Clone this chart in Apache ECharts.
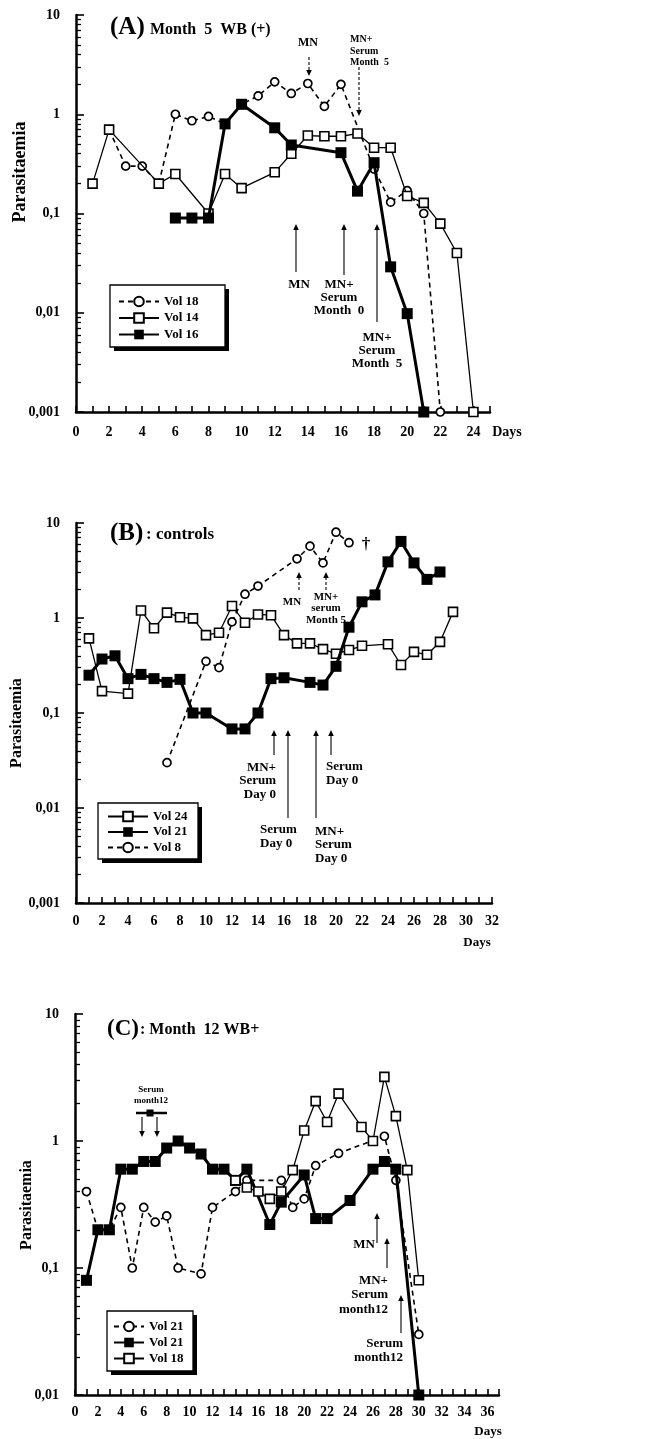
<!DOCTYPE html>
<html><head><meta charset="utf-8">
<script src="https://cdn.jsdelivr.net/npm/echarts@6/dist/echarts.min.js"></script>
<style>html,body{margin:0;padding:0;background:#fff}#c{width:655px;height:1439px}</style>
</head><body><div id="c"></div>
<script>
// ---------- DATA ----------
// Panel A : Month 5 WB (+)
const daysA_vol18 = [2,3,4,5,6,7,8,9,10,11,12,13,14,15,16,18,19,20,21,22];
const valsA_vol18 = [0.7,0.3,0.3,0.2,1.0,0.86,0.95,0.8,1.26,1.53,2.12,1.62,2.04,1.2,2.0,0.28,0.13,0.17,0.10,0.001];
const daysA_vol14 = [1,2,5,6,8,9,10,12,13,14,15,16,17,18,19,20,21,22,23,24];
const valsA_vol14 = [0.2,0.7,0.2,0.25,0.1,0.25,0.18,0.26,0.4,0.61,0.6,0.6,0.64,0.46,0.46,0.15,0.128,0.079,0.04,0.001];
const daysA_vol16 = [6,7,8,9,10,12,13,16,17,18,19,20,21];
const valsA_vol16 = [0.09,0.09,0.09,0.8,1.26,0.73,0.49,0.41,0.168,0.325,0.029,0.0098,0.001];

// Panel B : controls
const daysB_vol24 = [1,2,4,5,6,7,8,9,10,11,12,13,14,15,16,17,18,19,20,21,22,24,25,26,27,28,29];
const valsB_vol24 = [0.61,0.17,0.16,1.2,0.78,1.14,1.02,0.99,0.66,0.70,1.34,0.89,1.09,1.07,0.66,0.54,0.54,0.47,0.42,0.46,0.51,0.53,0.32,0.44,0.41,0.56,1.16];
const daysB_vol21 = [1,2,3,4,5,6,7,8,9,10,12,13,14,15,16,18,19,20,21,22,23,24,25,26,27,28];
const valsB_vol21 = [0.25,0.37,0.40,0.23,0.255,0.23,0.21,0.226,0.1,0.1,0.068,0.068,0.1,0.23,0.235,0.21,0.197,0.31,0.8,1.48,1.75,3.9,6.4,3.8,2.55,3.05];
const daysB_vol8 = [7,10,11,12,13,14,17,18,19,20,21];
const valsB_vol8 = [0.03,0.35,0.30,0.91,1.78,2.17,4.2,5.7,3.8,8.0,6.2];

// Panel C : Month 12 WB+
const daysC_vol21d = [1,2,3,4,5,6,7,8,9,11,12,14,15,18,19,20,21,23,27,28,30];
const valsC_vol21d = [0.40,0.2,0.2,0.30,0.1,0.30,0.23,0.257,0.1,0.09,0.30,0.40,0.49,0.49,0.30,0.35,0.64,0.80,1.09,0.49,0.03];
const daysC_vol21f = [1,2,3,4,5,6,7,8,9,10,11,12,13,14,15,17,18,20,21,22,24,26,27,28,30];
const valsC_vol21f = [0.08,0.2,0.2,0.6,0.6,0.69,0.69,0.88,1.0,0.88,0.79,0.6,0.6,0.49,0.6,0.22,0.33,0.54,0.245,0.245,0.34,0.6,0.69,0.6,0.01];
const daysC_vol18 = [14,15,16,17,18,19,20,21,22,23,25,26,27,28,29,30];
const valsC_vol18 = [0.49,0.43,0.40,0.35,0.40,0.59,1.21,2.06,1.41,2.36,1.29,1.0,3.2,1.57,0.59,0.08];

const yDecadesA = [0.001,0.01,0.1,1,10];
const yDecadesC = [0.01,0.1,1,10];

// ---------- HELPERS ----------
const FF = '"Liberation Serif","Times New Roman",serif';
const pairs = (d, v) => d.map((x, i) => [x, v[i]]);
const minorOf = decs => { const r = []; for (let i = 0; i < decs.length - 1; i++) for (let k = 2; k <= 9; k++) r.push(+(decs[i] * k).toPrecision(3)); return r; };
const fmtY = v => { const e = Math.round(Math.log10(v)); return e >= 0 ? String(Math.pow(10, e)) : '0,' + '0'.repeat(-e - 1) + '1'; };

const STY = {
  circ: { symbol: 'circle', symbolSize: 8, itemStyle: { color: '#fff', borderColor: '#000', borderWidth: 1.7 }, lineStyle: { color: '#000', width: 1.6, type: [5, 4] } },
  open: { symbol: 'rect', symbolSize: 9, itemStyle: { color: '#fff', borderColor: '#000', borderWidth: 1.6 }, lineStyle: { color: '#000', width: 1.3 } },
  fill: { symbol: 'rect', symbolSize: 11, itemStyle: { color: '#000' }, lineStyle: { color: '#000', width: 3 } }
};
function ser(name, idx, d, v, st, z) {
  return Object.assign({ type: 'line', name, xAxisIndex: idx, yAxisIndex: idx, data: pairs(d, v), z, silent: true, animation: false, showAllSymbol: true, emphasis: { disabled: true } }, JSON.parse(JSON.stringify(STY[st])));
}

const grids = [
  { left: 76, top: 15, width: 414, height: 397 },
  { left: 76, top: 523, width: 416, height: 380 },
  { left: 75, top: 1014, width: 424, height: 381 }
];
const xMax = [25, 32, 37];
const xMargin = [13, 11, 10];
const yDec = [yDecadesA, yDecadesA, yDecadesC];

const xAxes = xMax.map((m, i) => ({
  type: 'value', gridIndex: i, min: 0, max: m, interval: 1,
  axisLine: { onZero: false, lineStyle: { color: '#000', width: 2.5 } },
  axisTick: { inside: true, length: 6, lineStyle: { color: '#000', width: 1.6 } },
  axisLabel: { formatter: v => (v % 2 === 0 ? String(v) : ''), margin: xMargin[i], color: '#000', fontFamily: FF, fontWeight: 'bold', fontSize: 14 },
  splitLine: { show: false }
}));
const yAxes = [];
yDec.forEach((dec, i) => {
  yAxes.push({
    type: 'log', logBase: 10, gridIndex: i, min: dec[0], max: dec[dec.length - 1], position: 'left',
    axisLine: { show: true, lineStyle: { color: '#000', width: 2.5 } },
    axisTick: { inside: true, length: 8, customValues: dec, lineStyle: { color: '#000', width: 1.6 } },
    axisLabel: { customValues: dec, formatter: fmtY, margin: 16, color: '#000', fontFamily: FF, fontWeight: 'bold', fontSize: 14 },
    splitLine: { show: false }, minorTick: { show: false }
  });
});
yDec.forEach((dec, i) => {
  yAxes.push({
    type: 'log', logBase: 10, gridIndex: i, min: dec[0], max: dec[dec.length - 1], position: 'left', offset: 0,
    axisLine: { show: false },
    axisTick: { inside: true, length: 5, customValues: minorOf(dec), lineStyle: { color: '#000', width: 1.3 } },
    axisLabel: { show: false }, splitLine: { show: false }
  });
});

const series = [
  ser('A|Vol 18', 0, daysA_vol18, valsA_vol18, 'circ', 2),
  ser('A|Vol 14', 0, daysA_vol14, valsA_vol14, 'open', 3),
  ser('A|Vol 16', 0, daysA_vol16, valsA_vol16, 'fill', 4),
  ser('B|Vol 8', 1, daysB_vol8, valsB_vol8, 'circ', 2),
  ser('B|Vol 24', 1, daysB_vol24, valsB_vol24, 'open', 3),
  ser('B|Vol 21', 1, daysB_vol21, valsB_vol21, 'fill', 4),
  ser('C|Vol 21', 2, daysC_vol21d, valsC_vol21d, 'circ', 2),
  ser('C|Vol 21 f', 2, daysC_vol21f, valsC_vol21f, 'fill', 3),
  ser('C|Vol 18', 2, daysC_vol18, valsC_vol18, 'open', 4)
];

const legBase = {
  orient: 'vertical', selectedMode: false, backgroundColor: 'transparent', borderWidth: 0, z: 10,
  itemHeight: 12,
  formatter: n => n.split('|')[1].replace(' f', ''),
  textStyle: { color: '#000', fontFamily: FF, fontWeight: 'bold', fontSize: 13, lineHeight: 12 }
};
const legends = [
  Object.assign({}, legBase, { data: ['A|Vol 18', 'A|Vol 14', 'A|Vol 16'], left: 110, top: 285, padding: [10, 30, 10, 8], itemWidth: 40, itemGap: 3.5 }),
  Object.assign({}, legBase, { data: ['B|Vol 24', 'B|Vol 21', 'B|Vol 8'], left: 98, top: 803, padding: [7, 15, 7, 9], itemWidth: 40, itemGap: 2.5 }),
  Object.assign({}, legBase, { data: ['C|Vol 21', 'C|Vol 21 f', 'C|Vol 18'], left: 107, top: 1311, padding: [9, 20, 9, 6], itemWidth: 30, itemGap: 3 })
];
// legend frames (box + hard drop shadow)
const legendBoxes = [[110, 285, 115, 62], [98, 803, 100, 56], [107, 1311, 86, 60]];

// ---------- ANNOTATIONS ----------
function txt(x, y, text, size, align, lh) {
  return { type: 'text', x, y, z: 50, style: { text, font: 'bold ' + size + 'px ' + FF, fill: '#000', align: align || 'center', verticalAlign: 'middle', lineHeight: lh || size } };
}
function arrow(x, yFrom, yTo, dotted) {
  const dir = yTo < yFrom ? -1 : 1, hl = 6, hw = 2.8;
  return [
    { type: 'line', z: 50, shape: { x1: x, y1: yFrom, x2: x, y2: yTo - dir * hl }, style: { stroke: '#000', lineWidth: 1.1, lineDash: dotted ? [3, 2] : null } },
    { type: 'polygon', z: 50, shape: { points: [[x, yTo], [x - hw, yTo - dir * hl], [x + hw, yTo - dir * hl]] }, style: { fill: '#000' } }
  ];
}
const g = [];
legendBoxes.forEach(([x, y, w, h]) => {
  g.push({ type: 'rect', z: 5, shape: { x: x + 4, y: y + 4, width: w, height: h }, style: { fill: '#000' } });
  g.push({ type: 'rect', z: 6, shape: { x, y, width: w, height: h }, style: { fill: '#fff', stroke: '#000', lineWidth: 1.3 } });
});
// titles
g.push(txt(110, 28, '(A)', 25, 'left'), txt(150, 30, 'Month  5  WB (+)', 16, 'left'));
g.push(txt(110, 534, '(B)', 25, 'left'), txt(146, 535, ': controls', 17, 'left'));
g.push(txt(107, 1029, '(C)', 23, 'left'), txt(140, 1030, ': Month  12 WB+', 16, 'left'));
// y names
[[20, 172, 18], [17, 723, 16], [27, 1205, 16]].forEach(([x, y, s]) => g.push({ type: 'text', x, y, rotation: Math.PI / 2, z: 50, style: { text: 'Parasitaemia', font: 'bold ' + s + 'px ' + FF, fill: '#000', align: 'center', verticalAlign: 'middle' } }));
// Days
g.push(txt(507, 432, 'Days', 14, 'center'), txt(477, 943, 'Days', 13, 'center'), txt(488, 1432, 'Days', 13, 'center'));
// A annotations
g.push(txt(308, 43, 'MN', 12));
g.push(...arrow(309, 57, 76, true));
g.push(txt(350, 51, 'MN+\nSerum\nMonth  5', 10, 'left', 11.5));
g.push(...arrow(359, 67, 116, true));
g.push(...arrow(296, 272, 224), txt(299, 285, 'MN', 13));
g.push(...arrow(344, 275, 224), txt(339, 298, 'MN+\nSerum\nMonth  0', 13, 'center', 13));
g.push(...arrow(377, 322, 224), txt(377, 351, 'MN+\nSerum\nMonth  5', 13, 'center', 13));
// B annotations
g.push(...arrow(299, 590, 572, true), txt(292, 602, 'MN', 11));
g.push(...arrow(326, 590, 572, true), txt(326, 608.5, 'MN+\nserum\nMonth 5', 11, 'center', 11.5));
g.push(...arrow(274, 755, 730), txt(276, 781, 'MN+\nSerum\nDay 0', 13, 'right', 13.5));
g.push(...arrow(288, 818, 730), txt(260, 836.5, 'Serum\nDay 0', 13, 'left', 13.5));
g.push(...arrow(316, 818, 730), txt(315, 845, 'MN+\nSerum\nDay 0', 13, 'left', 13.5));
g.push(...arrow(331, 755, 730), txt(326, 773.5, 'Serum\nDay 0', 13, 'left', 13.5));
g.push(txt(366, 545, '\u2020', 17));
// C annotations
g.push(txt(151, 1095.5, 'Serum\nmonth12', 9, 'center', 11));
g.push({ type: 'line', z: 50, shape: { x1: 136, y1: 1113, x2: 167, y2: 1113 }, style: { stroke: '#000', lineWidth: 2.5 } });
g.push({ type: 'rect', z: 51, shape: { x: 146.5, y: 1109.5, width: 7, height: 7 }, style: { fill: '#000' } });
g.push(...arrow(142, 1117, 1137), ...arrow(157, 1117, 1137));
g.push(...arrow(377, 1243, 1213), txt(375, 1245, 'MN', 13, 'right'));
g.push(...arrow(387, 1268, 1238), txt(388, 1295, 'MN+\nSerum\nmonth12', 13, 'right', 14.5));
g.push(...arrow(401, 1333, 1295), txt(403, 1350.5, 'Serum\nmonth12', 13, 'right', 13.5));

const chart = echarts.init(document.getElementById('c'), null, { renderer: 'canvas' });
chart.setOption({
  animation: false,
  backgroundColor: '#fff',
  grid: grids.map(gr => Object.assign({ outerBoundsMode: 'none', containLabel: false }, gr)),
  xAxis: xAxes,
  yAxis: yAxes,
  legend: legends,
  series,
  graphic: g
});
</script></body></html>
